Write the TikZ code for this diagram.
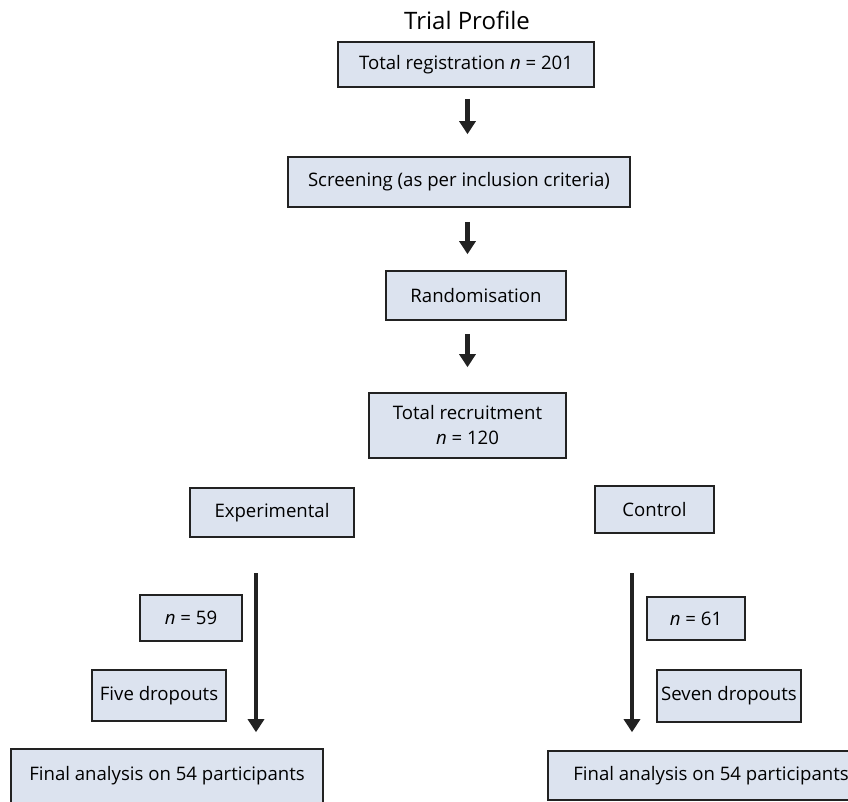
\documentclass[tikz,border=0pt]{standalone}
\usepackage{fontspec}
\setmainfont{Open Sans}
\usepackage{xcolor}
\usetikzlibrary{arrows.meta, positioning, calc}

\definecolor{boxfill}{HTML}{DCE3EF}
\definecolor{boxline}{HTML}{222222}

\begin{document}
\begin{tikzpicture}[
    x=1pt, y=-1pt,
    block/.style={rectangle, draw=boxline, fill=boxfill, line width=1.6pt, inner sep=0pt, align=center, font=\fontsize{18.6}{25}\selectfont},
    arrow/.style={-{Triangle[width=16pt, length=13pt]}, line width=4.4pt, color=boxline},
]
\useasboundingbox (0,0) rectangle (848,802);
\clip (0,0) rectangle (848,802);

\node[font=\fontsize{24}{28}\selectfont] (title) at (467,20) {Trial Profile};

\node[block, minimum width=256pt, minimum height=45pt] (reg) at (466,64.5) {Total registration \textit{n} = 201};
\node[block, minimum width=342pt, minimum height=50pt] (screen) at (459,182) {Screening (as per inclusion criteria)};
\node[block, minimum width=180pt, minimum height=49pt] (rand) at (476,295.5) {Randomisation};
\node[block, minimum width=197pt, minimum height=65pt] (recruit) at (467.5,425.5) {Total recruitment\\\textit{n} = 120};

\node[block, minimum width=164pt, minimum height=49pt] (exper) at (272,512.5) {Experimental};
\node[block, minimum width=119pt, minimum height=47pt] (ctrl) at (654.5,509.5) {Control};

\node[block, minimum width=102pt, minimum height=46pt] (nexp) at (191,618) {\textit{n} = 59};
\node[block, minimum width=134pt, minimum height=51pt] (dropexp) at (159,695.5) {Five dropouts};
\node[block, minimum width=312pt, minimum height=54pt] (finexp) at (167,776) {Final analysis on 54 participants};

\node[block, minimum width=98pt, minimum height=43pt] (nctrl) at (696,618.5) {\textit{n} = 61};
\node[block, minimum width=144pt, minimum height=52pt] (dropctrl) at (729,696) {Seven dropouts};
\node[block, minimum width=326pt, minimum height=49pt] (finctrl) at (711,775.5) {Final analysis on 54 participants};

\coordinate (splitexp) at (256,573);
\coordinate (splitctrl) at (632,573);

\draw[arrow, shorten <=11pt, shorten >=22pt] (reg.south -| recruit) -- (screen.north -| recruit);
\draw[arrow, shorten <=14pt, shorten >=16pt] (screen.south -| recruit) -- (rand.north -| recruit);
\draw[arrow, shorten <=13pt, shorten >=25pt] (rand.south -| recruit) -- (recruit.north);
\draw[arrow, shorten >=16pt] (splitexp) -- (splitexp |- finexp.north);
\draw[arrow, shorten >=18pt] (splitctrl) -- (splitctrl |- finctrl.north);

\end{tikzpicture}
\end{document}
